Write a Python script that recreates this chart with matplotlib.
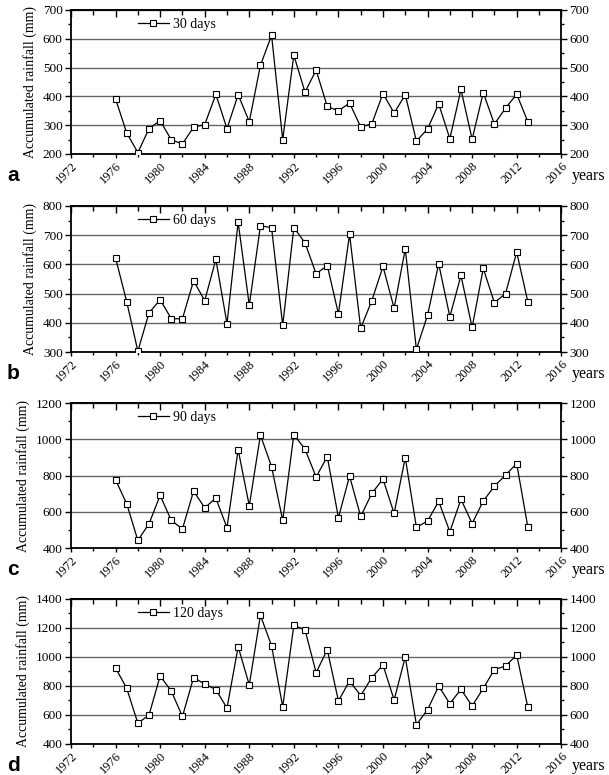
import numpy as np
import matplotlib
matplotlib.use("Agg")
import matplotlib.pyplot as plt
from matplotlib.ticker import MultipleLocator

plt.rcParams["font.family"] = ["Liberation Serif", "DejaVu Serif"]

years = list(range(1976, 2014))

rain_30 = [391, 273, 205, 288, 316, 249, 235, 293, 302, 407,
           288, 406, 312, 508, 612, 250, 543, 415, 491, 365,
           350, 377, 294, 305, 410, 342, 406, 245, 287, 374,
           253, 424, 251, 413, 304, 359, 408, 312]
rain_60 = [622, 472, 303, 434, 479, 414, 414, 544, 476, 617,
           397, 745, 460, 732, 726, 391, 726, 674, 568, 596,
           431, 703, 381, 476, 593, 450, 653, 309, 426, 602,
           421, 562, 384, 586, 469, 500, 642, 472]
rain_90 = [776, 644, 442, 534, 690, 552, 505, 714, 622, 675,
           512, 943, 633, 1023, 849, 552, 1026, 945, 792, 904,
           567, 797, 574, 702, 780, 591, 899, 514, 549, 657,
           490, 669, 535, 659, 741, 802, 866, 516]
rain_120 = [924, 784, 543, 600, 869, 765, 590, 858, 814, 775,
            648, 1071, 807, 1287, 1078, 657, 1218, 1188, 892, 1051,
            697, 835, 734, 858, 945, 704, 1000, 533, 637, 798,
            679, 777, 662, 784, 913, 938, 1014, 653]

series = [rain_30, rain_60, rain_90, rain_120]
legend_labels = ["30 days", "60 days", "90 days", "120 days"]
panel_letters = ["a", "b", "c", "d"]
y_limits = [(200, 700), (300, 800), (400, 1200), (400, 1400)]
y_steps = [100, 100, 200, 200]

# axes boxes in figure fraction (left, bottom, width, height)
boxes = [
    (0.1166, 0.8013, 0.805, 0.1858),
    (0.1166, 0.5458, 0.805, 0.1884),
    (0.1166, 0.2929, 0.805, 0.1871),
    (0.1166, 0.0400, 0.805, 0.1871),
]

fig = plt.figure(figsize=(6.09, 7.75), dpi=100)

for vals, lab, letter, ylim, step, box in zip(
        series, legend_labels, panel_letters, y_limits, y_steps, boxes):
    ax = fig.add_axes(box)
    ax.plot(years, vals, color="black", linewidth=0.9, marker="s",
            markersize=4.5, markerfacecolor="white", markeredgecolor="black",
            markeredgewidth=0.8, label=lab, zorder=3)

    ax.set_xlim(1972, 2016)
    ax.set_ylim(*ylim)
    ax.xaxis.set_major_locator(MultipleLocator(4))
    ax.xaxis.set_minor_locator(MultipleLocator(2))
    ax.yaxis.set_major_locator(MultipleLocator(step))
    ax.yaxis.set_minor_locator(MultipleLocator(step / 2))

    ax.grid(axis="y", which="major", color="0.4", linewidth=1.0, zorder=1)

    ax.tick_params(axis="y", which="both", left=True, right=True,
                   labelleft=True, labelright=True, direction="out",
                   labelsize=9.5, pad=2)
    ax.tick_params(axis="y", which="major", length=4, width=1)
    ax.tick_params(axis="y", which="minor", length=2.5, width=1)
    ax.tick_params(axis="x", which="both", direction="out", labelsize=9,
                   pad=1.5)
    ax.tick_params(axis="x", which="major", length=3, width=1)
    ax.tick_params(axis="x", which="minor", length=2.5, width=1)
    for t in ax.get_xticklabels():
        t.set_rotation(45)
        t.set_ha("right")
        t.set_rotation_mode("anchor")

    top = ax.secondary_xaxis("top")
    top.xaxis.set_major_locator(MultipleLocator(4))
    top.xaxis.set_minor_locator(MultipleLocator(2))
    top.tick_params(which="both", direction="in", labeltop=False)
    top.tick_params(which="major", length=5, width=1)
    top.tick_params(which="minor", length=3.5, width=1)

    for sp in ax.spines.values():
        sp.set_linewidth(1.3)
    top.spines["top"].set_linewidth(1.3)

    ax.set_ylabel("Accumulated rainfall (mm)", fontsize=10, labelpad=4)

    ax.legend(loc="upper left", frameon=False, fontsize=10,
              handlelength=2.2, handletextpad=0.3,
              bbox_to_anchor=(0.12, 1.0), borderaxespad=0.2)

    l, b, w, h = box
    fig.text(0.022, b - 0.028, letter, fontsize=15, fontweight="bold",
             family=["Liberation Sans", "DejaVu Sans"], ha="center", va="center")
    fig.text(l + w + 0.018, b - 0.029, "years", fontsize=11.5,
             ha="left", va="center")

fig.savefig("out.png", dpi=100, facecolor="white")
